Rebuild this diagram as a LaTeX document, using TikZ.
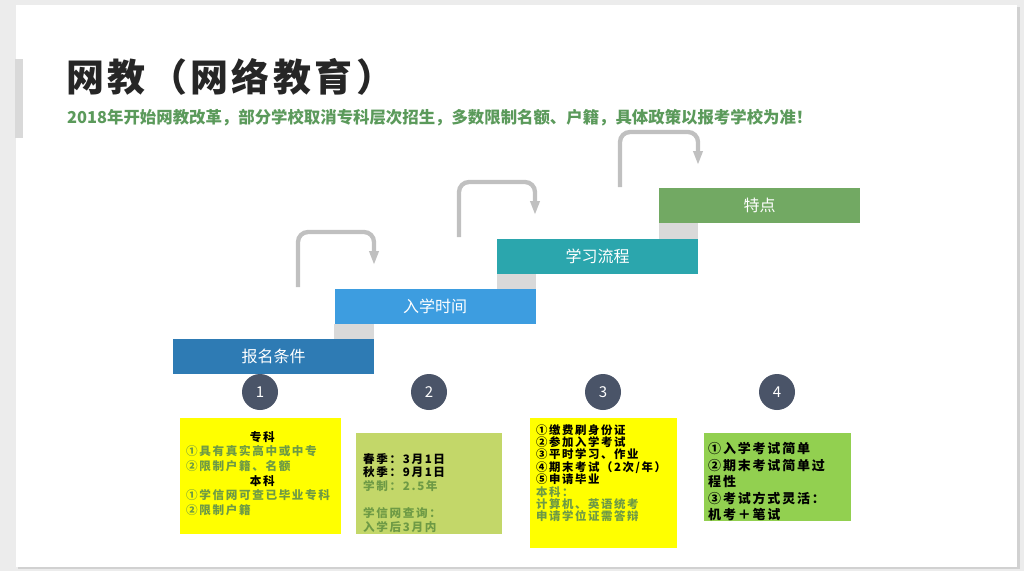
\documentclass[tikz,border=0pt]{standalone}
\usepackage{fontspec}
\setmainfont{Noto Sans CJK SC}
\newfontfamily\titlefont[LetterSpace=9]{Noto Sans CJK SC}
\newfontfamily\boxfont[LetterSpace=14]{Noto Sans CJK SC}
\usepackage{xcolor}
\usepackage{tikz}
\usetikzlibrary{calc}
\usetikzlibrary{positioning}
\usetikzlibrary{arrows.meta}

\definecolor{pageback}{HTML}{ECECEC}
\definecolor{sidebar}{HTML}{D9D9D9}
\definecolor{titleblack}{HTML}{262626}
\definecolor{subgreen}{HTML}{5B9A5B}
\definecolor{barA}{HTML}{2E7BB4}
\definecolor{barB}{HTML}{3D9DE0}
\definecolor{barC}{HTML}{2BA6AD}
\definecolor{barD}{HTML}{72A963}
\definecolor{riser}{HTML}{D9D9D9}
\definecolor{hookgray}{HTML}{C0C0C0}
\definecolor{numgray}{HTML}{4A5468}
\definecolor{boxyellow}{HTML}{FFFF00}
\definecolor{boxolive}{HTML}{C3D769}
\definecolor{boxgreen}{HTML}{92D050}
\definecolor{txtgreen}{HTML}{6E9A45}

\begin{document}
\begin{tikzpicture}[x=1pt, y=-1pt]

        % Steps, circles and cards share these looks
        \tikzset{
            bar/.style={minimum width=201pt, minimum height=35pt, inner sep=0pt,
                text=white, font=\fontsize{16}{18}\selectfont},
            num/.style={circle, fill=numgray, minimum size=36pt, inner sep=0pt,
                text=white, font=\fontsize{15}{15}\selectfont},
            card/.style={anchor=north west, inner sep=0pt, minimum width=#1},
            cardtext/.style={inner sep=0pt, align=left, text width=#1,
                font=\boxfont\bfseries\fontsize{11.6}{14.6}\selectfont},
            hook/.style={hookgray, line width=4.3pt, rounded corners=10pt,
                -{Triangle[width=9pt, length=14pt]}}
        }

        % Slide page
        \useasboundingbox (0, 0) rectangle (1024, 571);
        \fill[pageback] (0, 0) rectangle (1024, 571);
        \fill[black!18] (18, 7) rectangle (1020, 569);
        \fill[white] (16, 5) rectangle (1017, 567);
        \fill[sidebar] (15, 59) rectangle (23, 138);

        \node[anchor=west, inner sep=0pt, text=titleblack,
            font=\titlefont\bfseries\fontsize{38}{40}\selectfont] (title) at (66, 77)
            {网教（网络教育）};
        \node[anchor=west, inner sep=0pt, text=subgreen,
            font=\bfseries\fontsize{16.4}{18}\selectfont] (sub) at (67, 118)
            {2018年开始网教改革，部分学校取消专科层次招生，多数限制名额、户籍，具体政策以报考学校为准！};

        % Stairs
        \begin{scope}
            \node[bar, fill=barA] (B1) at (273.5, 356.5) {报名条件};
            \node[bar, fill=barB] (B2) at (435, 306.5) {入学时间};
            \node[bar, fill=barC] (B3) at (597.5, 256.5) {学习流程};
            \node[bar, fill=barD] (B4) at (759.5, 205.5) {特点};

            \fill[riser] (B2.south west) rectangle (B1.north east);
            \fill[riser] (B3.south west) rectangle (B2.north east);
            \fill[riser] (B4.south west) rectangle (B3.north east);
        \end{scope}

        % Hooked arrows over the steps
        \coordinate (S1) at (298, 287);
        \coordinate (M1) at (336, 232);
        \coordinate (E1) at (374, 265);
        \coordinate (S2) at (459, 237);
        \coordinate (M2) at (497, 182);
        \coordinate (E2) at (535, 215);
        \coordinate (S3) at (620, 187);
        \coordinate (M3) at (659, 132);
        \coordinate (E3) at (698, 165);

        \draw[hook] (S1) |- (M1) -| (E1);
        \draw[hook] (S2) |- (M2) -| (E2);
        \draw[hook] (S3) |- (M3) -| (E3);

        % Numbers
        \node[num] (N1) at (260, 392) {1};
        \node[num] (N2) at (429, 392) {2};
        \node[num] (N3) at (603, 392) {3};
        \node[num] (N4) at (777, 392) {4};

        % Cards
        \node[card=161pt, fill=boxyellow, minimum height=116pt] (K1) at (180, 418) {};
        \node[card=146pt, fill=boxolive, minimum height=101pt] (K2) at (356, 433) {};
        \node[card=147pt, fill=boxyellow, minimum height=130pt] (K3) at (530, 418) {};
        \node[card=147pt, fill=boxgreen, minimum height=88pt] (K4) at (704, 433) {};

        \node[cardtext=152pt, below right=13pt and 6pt of K1.north west] (T1) {%
            \makebox[\linewidth]{专科}\\
            \textcolor{txtgreen}{①具有真实高中或中专}\\
            \textcolor{txtgreen}{②限制户籍、名额}\\
            \makebox[\linewidth]{本科}\\
            \textcolor{txtgreen}{①学信网可查已毕业专科}\\
            \textcolor{txtgreen}{②限制户籍}};

        \node[cardtext=138pt, below right=20pt and 7pt of K2.north west,
            font=\boxfont\bfseries\fontsize{11.6}{13.6}\selectfont] (T2) {%
            春季：3月1日\\
            秋季：9月1日\\
            \textcolor{txtgreen}{学制：2.5年}\\[13.6pt]
            \textcolor{txtgreen}{学信网查询：}\\
            \textcolor{txtgreen}{入学后3月内}};

        \node[cardtext=140pt, below right=6pt and 6pt of K3.north west,
            font=\boxfont\bfseries\fontsize{11.4}{12.4}\selectfont] (T3) {%
            ①缴费刷身份证\\
            ②参加入学考试\\
            ③平时学习、作业\\
            ④期末考试（2次/年）\\
            ⑤申请毕业\\
            \textcolor{txtgreen}{本科：}\\
            \textcolor{txtgreen}{计算机、英语统考}\\
            \textcolor{txtgreen}{申请学位证需答辩}};

        \node[cardtext=142pt, below right=9pt and 4pt of K4.north west,
            font=\boxfont\bfseries\fontsize{13}{16.6}\selectfont] (T4) {%
            ①入学考试简单\\
            ②期末考试简单过\\
            程性\\
            ③考试方式灵活：\\
            机考＋笔试};

\end{tikzpicture}
\end{document}
